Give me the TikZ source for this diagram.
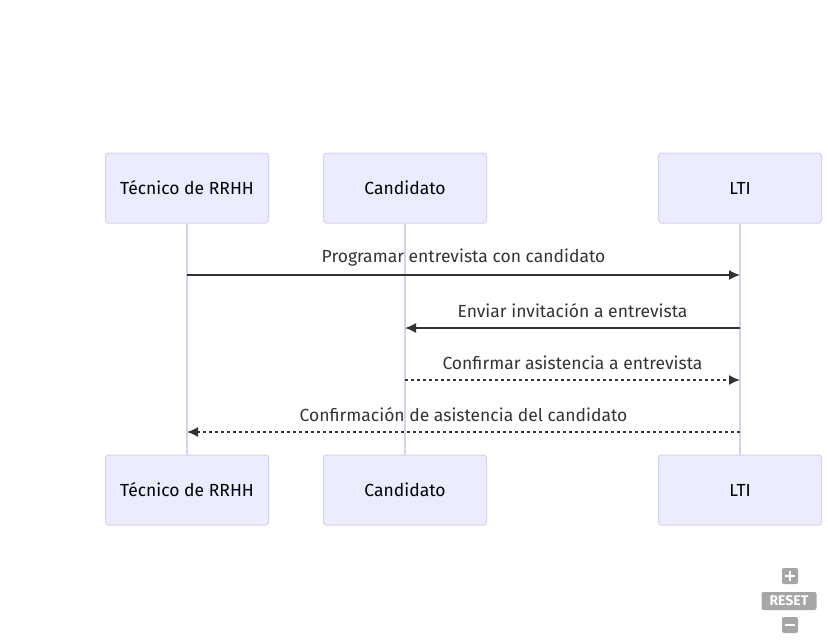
\documentclass[tikz,border=0pt]{standalone}
\usepackage{fontspec}
\setmainfont{Fira Sans}
\usetikzlibrary{positioning, math, calc, arrows.meta}
\definecolor{actfill}{RGB}{236,236,255}
\definecolor{actline}{RGB}{218,206,243}
\definecolor{msgcol}{RGB}{51,51,51}
\definecolor{ctrlgray}{RGB}{166,166,166}

\tikzset{
  actor/.style={draw=actline, fill=actfill, rounded corners=3pt, line width=1pt,
    minimum width=163pt, minimum height=70pt, text=black,
    font=\fontsize{17.5}{21}\selectfont},
  life/.style={draw=actline, line width=2pt},
  msg/.style={draw=msgcol, line width=1.5pt, -{Latex[length=11pt,width=10pt]}},
  reply/.style={msg, dash pattern=on 3pt off 3pt},
  lbl/.style={midway, yshift=17pt, text=msgcol, font=\fontsize{17.5}{21}\selectfont},
  ctrl/.style={fill=ctrlgray, rounded corners=2pt, inner sep=0pt}
}

\begin{document}
\begin{tikzpicture}[x=1pt,y=-1pt]
\tikzmath{
\gap=231;
}
\useasboundingbox (0,0) rectangle (828,641);

% actors, top row
\node[actor] (tecT) at (187,188) {Técnico de RRHH};
\node[actor] (canT) at (405,188) {Candidato};
\node[actor] (ltiT) at (740,188) {LTI};

% actors, bottom row
\node[actor, below=\gap pt of tecT] (tecB) {Técnico de RRHH};
\node[actor, below=\gap pt of canT] (canB) {Candidato};
\node[actor, below=\gap pt of ltiT] (ltiB) {LTI};

\foreach \a in {tec,can,lti}{
\draw[life] (\a T.south) -- (\a B.north);
}

% message rows
\coordinate (r1) at (0,275);
\coordinate (r2) at (0,328);
\coordinate (r3) at (0,380);
\coordinate (r4) at (0,432);

\draw[msg] (tecT |- r1) -- (ltiT |- r1) node[lbl] {Programar entrevista con candidato};
\draw[msg] (ltiT |- r2) -- (canT |- r2) node[lbl] {Enviar invitación a entrevista};
\draw[reply] (canT |- r3) -- (ltiT |- r3) node[lbl] {Confirmar asistencia a entrevista};
\draw[reply] (ltiT |- r4) -- (tecT |- r4) node[lbl] {Confirmación de asistencia del candidato};

% zoom controls
\node[ctrl, minimum width=16pt, minimum height=16pt] (plus) at (790,576) {};
\draw[white, line width=2.5pt] ($(plus)+(-5,0)$) -- ($(plus)+(5,0)$) ($(plus)+(0,-5)$) -- ($(plus)+(0,5)$);
\node[ctrl, minimum width=55pt, minimum height=18pt, text=white,
  font=\fontsize{14}{16}\bfseries] (reset) at (789,601) {RESET};
\node[ctrl, minimum width=16pt, minimum height=16pt] (minus) at (790,625) {};
\draw[white, line width=2.5pt] ($(minus)+(-5,0)$) -- ($(minus)+(5,0)$);

\end{tikzpicture}
\end{document}
